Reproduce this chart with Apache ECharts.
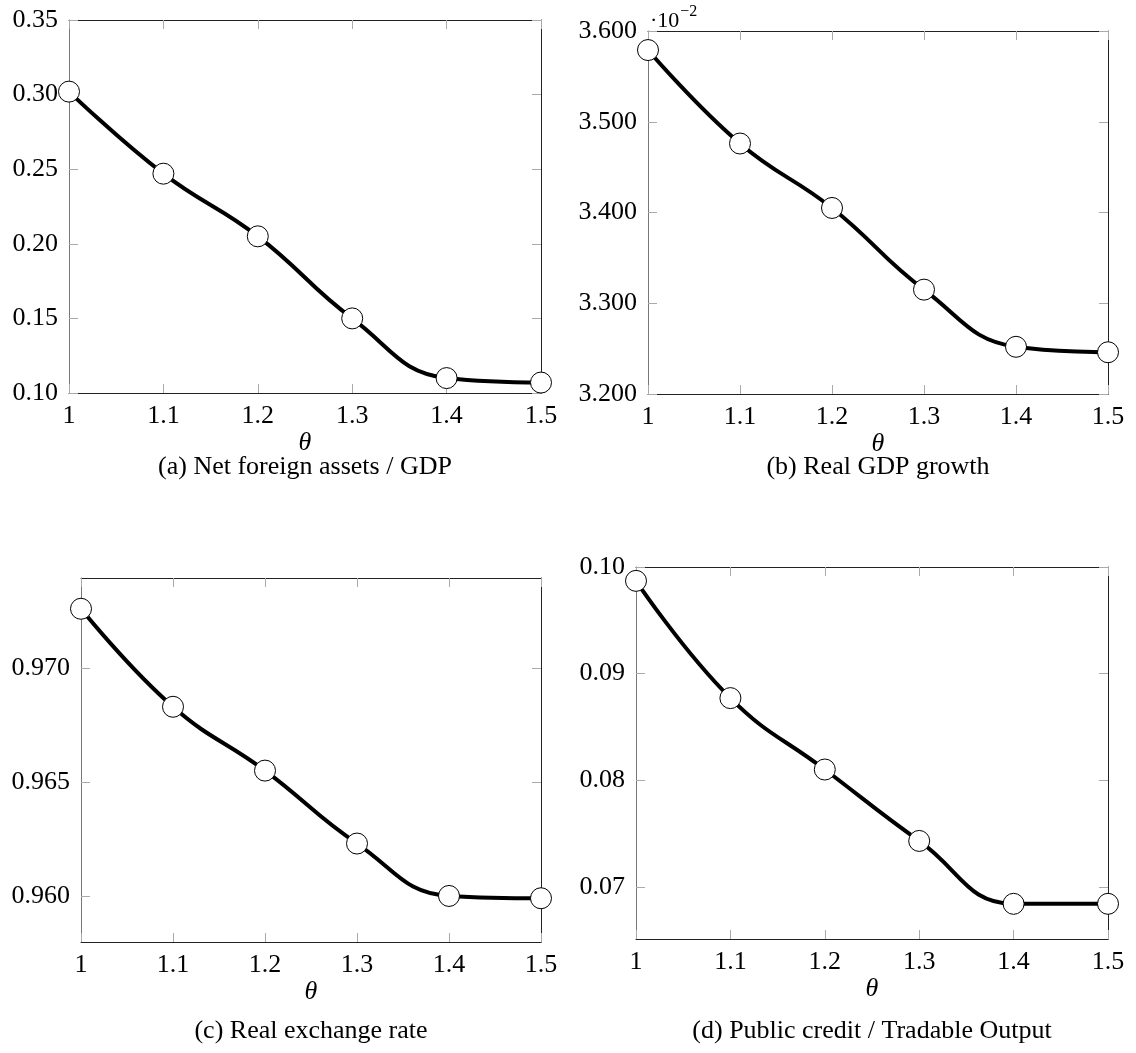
<!DOCTYPE html>
<html>
<head>
<meta charset="utf-8">
<script src="https://cdn.jsdelivr.net/npm/echarts@6/dist/echarts.min.js"></script>
<style>
  html, body { margin: 0; padding: 0; background: #fff; }
  #chart { width: 1136px; height: 1053px; }
</style>
</head>
<body>
<div id="chart"></div>
<script>
// theta values on the x axis
const thetaValues = [1, 1.1, 1.2, 1.3, 1.4, 1.5];
const xTicks = [1, 1.1, 1.2, 1.3, 1.4, 1.5];

// series
const netForeignAssets = [0.302, 0.247, 0.205, 0.150, 0.110, 0.107];
const realGdpGrowth = [3.579, 3.476, 3.405, 3.315, 3.252, 3.246]; // in units of 10^-2
const realExchangeRate = [0.9726, 0.9683, 0.9655, 0.9623, 0.9600, 0.9599];
const publicCredit = [0.0987, 0.0877, 0.0810, 0.0743, 0.0684, 0.0684];

// y tick labels
const ticksA = [0.10, 0.15, 0.20, 0.25, 0.30, 0.35];
const ticksB = [3.2, 3.3, 3.4, 3.5, 3.6];
const ticksC = [0.960, 0.965, 0.970];
const ticksD = [0.07, 0.08, 0.09, 0.10];

const captions = [
  '(a) Net foreign assets / GDP',
  '(b) Real GDP growth',
  '(c) Real exchange rate',
  '(d) Public credit / Tradable Output'
];

const FONT = 'Liberation Serif';
const chart = echarts.init(document.getElementById('chart'));

const panels = [
  { grid: { left: 69, top: 20, width: 472, height: 373 }, min: 0.10, max: 0.35, ticks: ticksA, dec: 2, data: netForeignAssets, capY: 467 },
  { grid: { left: 648, top: 31, width: 460, height: 363 }, min: 3.2, max: 3.6, ticks: ticksB, dec: 3, data: realGdpGrowth, capY: 467 },
  { grid: { left: 81, top: 578, width: 460, height: 364 }, min: 0.95798, max: 0.97395, ticks: ticksC, dec: 3, data: realExchangeRate, capY: 1031 },
  { grid: { left: 636, top: 567, width: 472, height: 372 }, min: 0.0651, max: 0.10, ticks: ticksD, dec: 2, data: publicCredit, capY: 1031 }
];

const tickStyle = { show: true, inside: true, length: 9, lineStyle: { color: '#aaa', width: 1 } };

const grids = [], xAxes = [], yAxes = [], series = [], graphics = [];

panels.forEach(function (p, i) {
  grids.push(Object.assign({ containLabel: false }, p.grid));

  // bottom x axis
  xAxes.push({
    type: 'value', gridIndex: i, position: 'bottom', min: 1, max: 1.5,
    name: 'θ', nameLocation: 'middle', nameGap: 31,
    nameTextStyle: { fontFamily: FONT, fontStyle: 'italic', fontSize: 26, color: '#000' },
    axisLine: { show: true, onZero: false, lineStyle: { color: '#222', width: 1 } },
    axisTick: Object.assign({ customValues: xTicks }, tickStyle),
    axisLabel: {
      customValues: xTicks, margin: 10, fontFamily: FONT, fontSize: 26, color: '#000',
      formatter: function (v) { return v === 1 ? '1' : v.toFixed(1); }
    },
    splitLine: { show: false }
  });
  // top x axis (mirror ticks)
  xAxes.push({
    type: 'value', gridIndex: i, position: 'top', min: 1, max: 1.5,
    axisLine: { show: true, onZero: false, lineStyle: { color: '#222', width: 1 } },
    axisTick: Object.assign({ customValues: xTicks }, tickStyle),
    axisLabel: { show: false },
    splitLine: { show: false }
  });

  // left y axis
  yAxes.push({
    type: 'value', gridIndex: i, position: 'left', min: p.min, max: p.max,
    axisLine: { show: true, onZero: false, lineStyle: { color: '#777', width: 1 } },
    axisTick: Object.assign({ customValues: p.ticks }, tickStyle),
    axisLabel: {
      customValues: p.ticks, margin: 11, fontFamily: FONT, fontSize: 26, color: '#000',
      formatter: function (v) { return v.toFixed(p.dec); }
    },
    splitLine: { show: false }
  });
  // right y axis (mirror ticks)
  yAxes.push({
    type: 'value', gridIndex: i, position: 'right', min: p.min, max: p.max,
    axisLine: { show: true, onZero: false, lineStyle: { color: '#222', width: 1 } },
    axisTick: Object.assign({ customValues: p.ticks }, tickStyle),
    axisLabel: { show: false },
    splitLine: { show: false }
  });

  series.push({
    type: 'line', xAxisIndex: i * 2, yAxisIndex: i * 2,
    data: thetaValues.map(function (t, k) { return [t, p.data[k]]; }),
    smooth: 0.45, clip: false,
    symbol: 'circle', symbolSize: 21,
    lineStyle: { color: '#000', width: 4 },
    itemStyle: { color: '#fff', borderColor: '#000', borderWidth: 1 },
    z: 5
  });

  graphics.push({
    type: 'text', x: p.grid.left + p.grid.width / 2, y: p.capY,
    style: {
      text: captions[i], fontFamily: FONT, fontSize: 26, fill: '#000',
      align: 'center', verticalAlign: 'middle'
    }
  });
});

// multiplier label for panel (b)
graphics.push({
  type: 'text', x: 650, y: 18,
  style: {
    text: '{m|·10}{s|−2}', fontFamily: FONT, fill: '#000', verticalAlign: 'middle',
    rich: {
      m: { fontFamily: FONT, fontSize: 22, fill: '#000', verticalAlign: 'bottom' },
      s: { fontFamily: FONT, fontSize: 16, fill: '#000', verticalAlign: 'top', padding: [0, 0, 12, 1] }
    }
  }
});

chart.setOption({
  animation: false,
  backgroundColor: '#fff',
  grid: grids,
  xAxis: xAxes,
  yAxis: yAxes,
  series: series,
  graphic: graphics
});
</script>
</body>
</html>
